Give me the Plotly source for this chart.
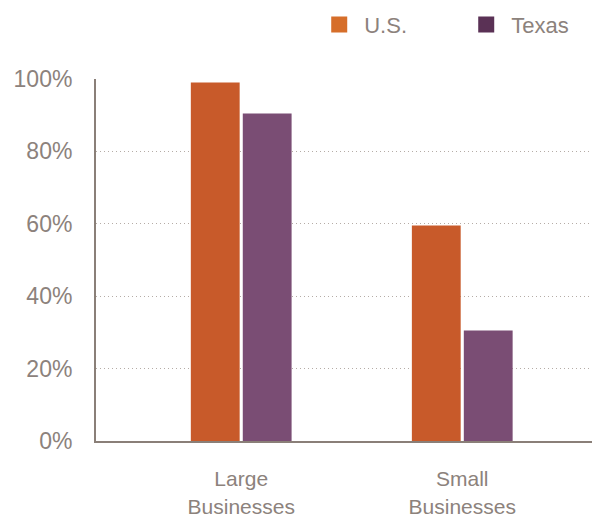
import plotly.graph_objects as go

categories = ["Large<br>Businesses", "Small<br>Businesses"]
us_values = [99, 59.5]
texas_values = [90.5, 30.5]
y_ticks = [0, 20, 40, 60, 80, 100]
y_tick_labels = ["0%", "20%", "40%", "60%", "80%", "100%"]

TEXT = "#8c827c"
AXIS = "#8a7f78"
FONT = "Liberation Sans, Arial, Helvetica, sans-serif"

fig = go.Figure()
fig.add_trace(go.Bar(x=categories, y=us_values, name="U.S.", showlegend=False,
                     marker=dict(color="#c85a2a", line=dict(width=0))))
fig.add_trace(go.Bar(x=categories, y=texas_values, name="Texas", showlegend=False,
                     marker=dict(color="#7a4d74", line=dict(width=0))))
# legend entries
fig.add_trace(go.Scatter(x=[None], y=[None], mode="markers", name="U.S.",
                         marker=dict(symbol="square", size=20, color="#d66e2a")))
fig.add_trace(go.Scatter(x=[None], y=[None], mode="markers", name="Texas",
                         marker=dict(symbol="square", size=20, color="#5a3155")))

fig.update_layout(
    width=594, height=519,
    margin=dict(l=96, r=2, t=79, b=78),
    paper_bgcolor="white", plot_bgcolor="white",
    font=dict(family=FONT, size=23, color=TEXT),
    barmode="group", bargap=0.53, bargroupgap=0.06,
    legend=dict(orientation="h", x=0.529, xanchor="left", xref="container",
                y=0.993, yanchor="top", yref="container",
                font=dict(size=22, color=TEXT),
                itemwidth=40, entrywidth=92, bgcolor="rgba(0,0,0,0)"),
    xaxis=dict(type="category", range=[-0.657, 1.587], showgrid=False,
               showline=True, linecolor=AXIS, linewidth=2, ticks="",
               automargin=False,
               ticklabelstandoff=18, tickfont=dict(size=21, color=TEXT)),
    yaxis=dict(range=[0, 100], tickvals=y_ticks, ticktext=y_tick_labels,
               showgrid=True, gridcolor="#b5aca6", griddash="1px,3px", gridwidth=1,
               showline=True, linecolor=AXIS, linewidth=2, zeroline=False,
               automargin=False,
               ticks="", ticklabelstandoff=17, tickfont=dict(size=23, color=TEXT)),
)
fig.write_html("out.html")
